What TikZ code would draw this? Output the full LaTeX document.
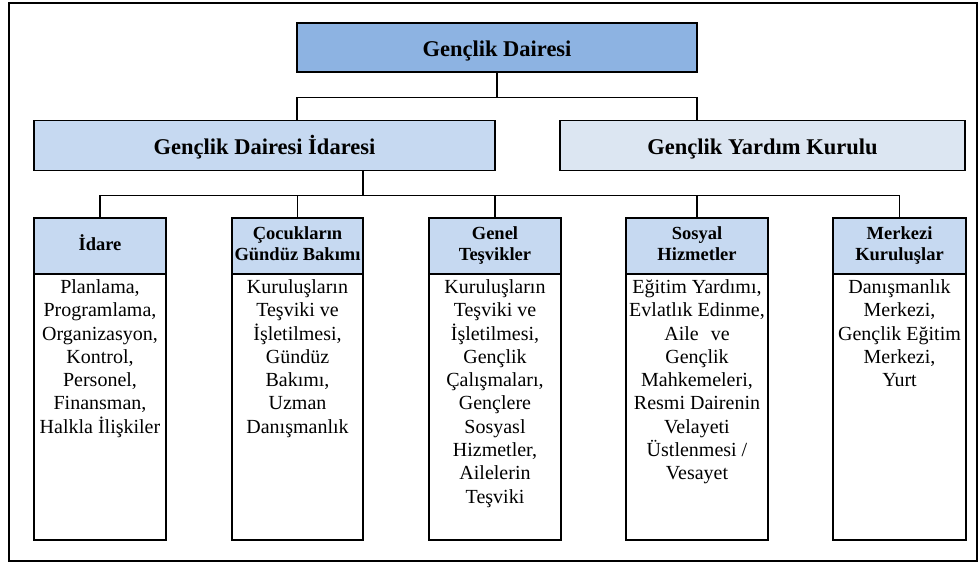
\documentclass[tikz,border=0pt]{standalone}
\usepackage{fontspec}
\setmainfont{Liberation Serif}
\definecolor{topblue}{HTML}{8DB3E2}
\definecolor{midblue}{HTML}{C6D9F1}
\definecolor{paleblue}{HTML}{DCE6F2}
\newcommand{\firstline}{\rule{0pt}{18pt}}
\tikzset{
  box/.style={draw=black, line width=1.6pt, rectangle, inner sep=0pt},
  bigtxt/.style={font=\fontsize{22.5}{26}\selectfont\bfseries, text height=21pt, text depth=4pt},
  hdr/.style={box, fill=midblue, minimum height=56pt, align=center,
              font=\fontsize{18.5}{21}\selectfont\bfseries},
  bodybox/.style={box, fill=white, minimum height=266pt},
  bodytxt/.style={anchor=north, inner sep=0pt, align=center,
              font=\fontsize{20}{23.3}\selectfont},
  conn/.style={draw=black, line width=1.6pt}
}
\begin{document}
\begin{tikzpicture}[x=1pt,y=-1pt]
\useasboundingbox (0,0) rectangle (979,563);
% outer frame
\draw[line width=2pt] (9,3) rectangle (977,561);

% top
\node[box, bigtxt, fill=topblue, minimum width=400pt, minimum height=49pt] (top) at (497,47.5) {Gençlik Dairesi};
\node[box, bigtxt, fill=midblue, minimum width=461pt, minimum height=50pt] (ida) at (264.5,145.5) {Gençlik Dairesi İdaresi};
\node[box, bigtxt, fill=paleblue, minimum width=405pt, minimum height=50pt] (yar) at (762.5,145.5) {Gençlik Yardım Kurulu};

\coordinate (bus1) at (497,97.5);
\coordinate (idaTop) at (297,120.5);
\coordinate (yarTop) at (697,120.5);
\coordinate (idaBot) at (363,170.5);
\coordinate (bus2) at (363,195.5);

% headers
\node[hdr, minimum width=132pt] (h1) at (100,246) {\strut İdare};
\node[hdr, minimum width=131pt] (h2) at (297.5,246) {\strut Çocukların\\\strut Gündüz Bakımı};
\node[hdr, minimum width=132pt] (h3) at (495,246) {\strut Genel\\\strut Teşvikler};
\node[hdr, minimum width=142pt] (h4) at (697,246) {\strut Sosyal\\\strut Hizmetler};
\node[hdr, minimum width=133pt] (h5) at (899.5,246) {\strut Merkezi\\\strut Kuruluşlar};

% bodies
\node[bodybox, minimum width=132pt] (b1) at (100,407) {};
\node[bodybox, minimum width=131pt] (b2) at (297.5,407) {};
\node[bodybox, minimum width=132pt] (b3) at (495,407) {};
\node[bodybox, minimum width=142pt] (b4) at (697,407) {};
\node[bodybox, minimum width=133pt] (b5) at (899.5,407) {};

\node[bodytxt] (t1) at ([yshift=-2pt]b1.north) {\firstline Planlama,\\Programlama,\\Organizasyon,\\Kontrol,\\Personel,\\Finansman,\\Halkla İlişkiler};
\node[bodytxt] (t2) at ([yshift=-2pt]b2.north) {\firstline Kuruluşların\\Teşviki ve\\İşletilmesi,\\Gündüz\\Bakımı,\\Uzman\\Danışmanlık};
\node[bodytxt] (t3) at ([yshift=-2pt]b3.north) {\firstline Kuruluşların\\Teşviki ve\\İşletilmesi,\\Gençlik\\Çalışmaları,\\Gençlere\\Sosyasl\\Hizmetler,\\Ailelerin\\Teşviki};
\node[bodytxt] (t4) at ([yshift=-2pt]b4.north) {\firstline Eğitim Yardımı,\\Evlatlık Edinme,\\Aile\hspace{7pt} ve\\Gençlik\\Mahkemeleri,\\Resmi Dairenin\\Velayeti\\Üstlenmesi /\\Vesayet};
\node[bodytxt] (t5) at ([yshift=-2pt]b5.north) {\firstline Danışmanlık\\Merkezi,\\Gençlik Eğitim\\Merkezi,\\Yurt};

% connectors
\draw[conn] (top.south) -- (bus1);
\draw[conn] (idaTop) |- (bus1) -| (yarTop);
\draw[conn] (idaBot) -- (bus2);
\draw[conn] (h1.north) |- (bus2) -| (h5.north);
\draw[conn] (h2.north) -- (h2.north |- bus2);
\draw[conn] (h3.north) -- (h3.north |- bus2);
\draw[conn] (h4.north) -- (h4.north |- bus2);
\end{tikzpicture}
\end{document}
